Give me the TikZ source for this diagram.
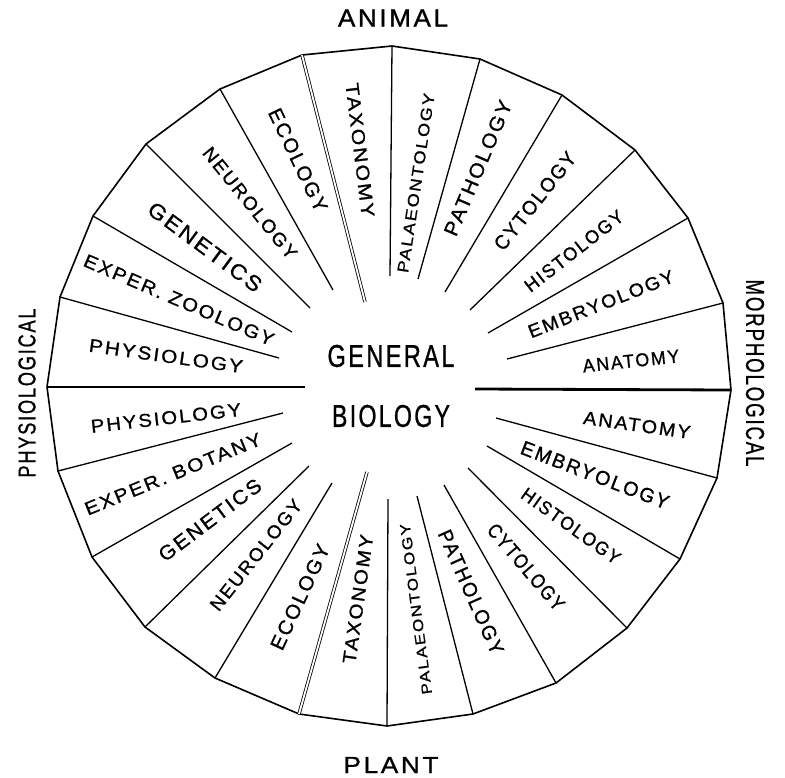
\documentclass[tikz,border=0pt]{standalone}
\usepackage{fontspec}
\usepackage{graphicx}
\newfontfamily\labfont[LetterSpace=10,FakeBold=1]{Liberation Sans}
\newcommand\fitlab[3]{\resizebox{#1pt}{#2pt}{\labfont #3}}
\tikzset{
  rim/.style={line width=1.6pt, line join=round},
  radial/.style={line width=1.3pt},
  heavy/.style={line width=2.8pt},
  twin/.style={line width=0.8pt, double=white, double distance=1.8pt},
  lab/.style={inner sep=0pt, anchor=center},
}
\begin{document}
\begin{tikzpicture}[x=1pt,y=-1pt]
\fill[white] (0,0) rectangle (785,777);
\useasboundingbox (0,0) rectangle (785,777);
% outer vertices
\coordinate (v1) at (47,387);
\coordinate (v2) at (60,297);
\coordinate (v3) at (93,216);
\coordinate (v4) at (146,144);
\coordinate (v5) at (220,89);
\coordinate (v6) at (302,55);
\coordinate (v7) at (392,46);
\coordinate (v8) at (480,59);
\coordinate (v9) at (562,95);
\coordinate (v10) at (635,150);
\coordinate (v11) at (688,218);
\coordinate (v12) at (723,303);
\coordinate (v13) at (731,390);
\coordinate (v14) at (717,478);
\coordinate (v15) at (680,559);
\coordinate (v16) at (627,628);
\coordinate (v17) at (556,683);
\coordinate (v18) at (473,714);
\coordinate (v19) at (387,726);
\coordinate (v20) at (299,714);
\coordinate (v21) at (215,678);
\coordinate (v22) at (145,627);
\coordinate (v23) at (92,557);
\coordinate (v24) at (58,471);
% inner ends
\coordinate (i1) at (305,387);
\coordinate (i2) at (279,358);
\coordinate (i3) at (292,332);
\coordinate (i4) at (310,308);
\coordinate (i5) at (333,290);
\coordinate (i6) at (365,302);
\coordinate (i7) at (390,276);
\coordinate (i8) at (418,279);
\coordinate (i9) at (445,292);
\coordinate (i10) at (470,310);
\coordinate (i11) at (488,333);
\coordinate (i12) at (507,359);
\coordinate (i13) at (475,389);
\coordinate (i14) at (496,418);
\coordinate (i15) at (487,446);
\coordinate (i16) at (468,468);
\coordinate (i17) at (444,485);
\coordinate (i18) at (417,496);
\coordinate (i19) at (388,499);
\coordinate (i20) at (367,472);
\coordinate (i21) at (332,483);
\coordinate (i22) at (309,466);
\coordinate (i23) at (292,443);
\coordinate (i24) at (283,413);
% outline
\draw[rim] (v1) -- (v2) -- (v3) -- (v4) -- (v5) -- (v6) -- (v7) -- (v8) -- (v9) -- (v10) -- (v11) -- (v12) -- (v13) -- (v14) -- (v15) -- (v16) -- (v17) -- (v18) -- (v19) -- (v20) -- (v21) -- (v22) -- (v23) -- (v24) -- cycle;
% radial dividers
\draw[heavy] (v1) -- (i1);
\draw[heavy] (v13) -- (i13);
\draw[twin] (v6) -- (i6);
\draw[twin] (v20) -- (i20);
\foreach \k in {2,3,4,5,7,8,9,10,11,12,14,15,16,17,18,19,21,22,23,24}{
  \draw[radial] (v\k) -- (i\k);
}
% top (animal) half labels
\node[lab, rotate=-8] (aphys) at (166,356) {\fitlab{155}{13}{PHYSIOLOGY}};
\node[lab, rotate=-23.2] (aexp) at (179,300) {\fitlab{205}{13}{EXPER. ZOOLOGY}};
\node[lab, rotate=-36.5] (agen) at (205,247) {\fitlab{136}{15}{GENETICS}};
\node[lab, rotate=-51] (aneu) at (250,203) {\fitlab{138}{13}{NEUROLOGY}};
\node[lab, rotate=-64.5] (aeco) at (298,160) {\fitlab{112}{14}{ECOLOGY}};
\node[lab, rotate=-83] (atax) at (360,150) {\fitlab{135}{13}{TAXONOMY}};
\node[lab, rotate=81.5] (apal) at (416,183) {\fitlab{181}{11}{PALAEONTOLOGY}};
\node[lab, rotate=67] (apat) at (478,168) {\fitlab{145}{14}{PATHOLOGY}};
\node[lab, rotate=51.6] (acyt) at (535,201) {\fitlab{119}{14}{CYTOLOGY}};
\node[lab, rotate=38] (ahis) at (574,251) {\fitlab{120}{13}{HISTOLOGY}};
\node[lab, rotate=21.5] (aemb) at (601,304) {\fitlab{155}{13}{EMBRYOLOGY}};
\node[lab, rotate=6] (aana) at (631,361) {\fitlab{97}{13}{ANATOMY}};
% bottom (plant) half labels
\node[lab, rotate=6.5] (pphys) at (166,418) {\fitlab{151}{13}{PHYSIOLOGY}};
\node[lab, rotate=22.2] (pexp) at (173,474) {\fitlab{189}{13}{EXPER. BOTANY}};
\node[lab, rotate=37] (pgen) at (210,520) {\fitlab{123}{14}{GENETICS}};
\node[lab, rotate=51.6] (pneu) at (256,555) {\fitlab{136}{13}{NEUROLOGY}};
\node[lab, rotate=65] (peco) at (300,597) {\fitlab{114}{14}{ECOLOGY}};
\node[lab, rotate=82] (ptax) at (358,599) {\fitlab{130}{13}{TAXONOMY}};
\node[lab, rotate=97.5] (ppal) at (416,609) {\fitlab{172}{10}{PALAEONTOLOGY}};
\node[lab, rotate=-66] (ppat) at (471,592) {\fitlab{134}{14}{PATHOLOGY}};
\node[lab, rotate=-49.5] (pcyt) at (526,567) {\fitlab{107}{14}{CYTOLOGY}};
\node[lab, rotate=-35.5] (phis) at (571,526) {\fitlab{117}{13}{HISTOLOGY}};
\node[lab, rotate=-21] (pemb) at (595,475) {\fitlab{157}{14}{EMBRYOLOGY}};
\node[lab, rotate=-8] (pana) at (637,425) {\fitlab{108}{13}{ANATOMY}};
% centre
\node[lab] (gen) at (391,356) {\fitlab{127}{22}{GENERAL}};
\node[lab] (bio) at (391,416) {\fitlab{118}{22}{BIOLOGY}};
% outer headings
\node[lab] (animal) at (393,18) {\fitlab{110}{17}{ANIMAL}};
\node[lab] (plant) at (391,765) {\fitlab{95}{16}{PLANT}};
\node[lab, rotate=90] (physio) at (27,393) {\fitlab{169}{17}{PHYSIOLOGICAL}};
\node[lab, rotate=-90] (morph) at (755,373) {\fitlab{187}{18}{MORPHOLOGICAL}};
\end{tikzpicture}
\end{document}
